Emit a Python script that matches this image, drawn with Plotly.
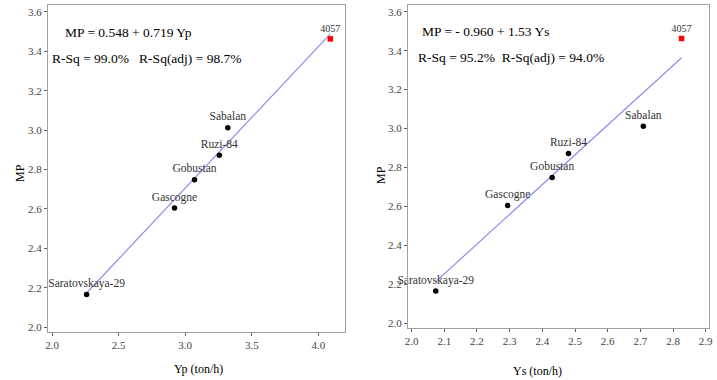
import plotly.graph_objects as go

cultivars = ["Saratovskaya-29", "Gascogne", "Gobustan", "Ruzi-84", "Sabalan", "4057"]
mp = [2.165, 2.605, 2.748, 2.872, 3.012, 3.463]
yp = [2.26, 2.92, 3.07, 3.256, 3.32, 4.09]
ys = [2.074, 2.294, 2.43, 2.48, 2.709, 2.826]

fit_yp = (0.548, 0.719)
fit_ys = (-0.960, 1.53)

eq_yp = "MP = 0.548 + 0.719 Yp"
rsq_yp = "R-Sq = 99.0%   R-Sq(adj) = 98.7%"
eq_ys = "MP = - 0.960 + 1.53 Ys"
rsq_ys = "R-Sq = 95.2%  R-Sq(adj) = 94.0%"

y_ticks = [2.0, 2.2, 2.4, 2.6, 2.8, 3.0, 3.2, 3.4, 3.6]
xp_ticks = [2.0, 2.5, 3.0, 3.5, 4.0]
xs_ticks = [2.0, 2.1, 2.2, 2.3, 2.4, 2.5, 2.6, 2.7, 2.8, 2.9]

FONT = "Liberation Serif, Times New Roman, serif"
fig = go.Figure()


def add_panel(xvals, fit, xa, ya):
    n = len(cultivars) - 1
    xmin, xmax = min(xvals), max(xvals)
    fig.add_trace(go.Scatter(x=[xmin, xmax], y=[fit[0] + fit[1] * xmin, fit[0] + fit[1] * xmax],
                             mode="lines", line=dict(color="#8c8cf0", width=1.2),
                             xaxis=xa, yaxis=ya, showlegend=False, hoverinfo="skip",
                             cliponaxis=False))
    fig.add_trace(go.Scatter(x=xvals[:n], y=mp[:n], mode="markers+text", text=cultivars[:n],
                             textposition="top center", cliponaxis=False,
                             textfont=dict(family=FONT, size=11.5, color="#333333"),
                             marker=dict(color="black", size=5.5),
                             xaxis=xa, yaxis=ya, showlegend=False))
    fig.add_trace(go.Scatter(x=xvals[n:], y=mp[n:], mode="markers+text", text=cultivars[n:],
                             textposition="top center", cliponaxis=False,
                             textfont=dict(family=FONT, size=10, color="#333333"),
                             marker=dict(color="red", size=5.5, symbol="square"),
                             xaxis=xa, yaxis=ya, showlegend=False))


add_panel(yp, fit_yp, "x", "y")
add_panel(ys, fit_ys, "x2", "y2")

axis_common = dict(showline=True, mirror=True, linecolor="#a0a0a0", linewidth=1,
                   ticks="outside", ticklen=3, tickcolor="#606060", showgrid=False, zeroline=False,
                   automargin=False,
                   tickfont=dict(family=FONT, size=11, color="#444444"))

fig.update_layout(
    width=717, height=380,
    margin=dict(l=0, r=0, t=0, b=0),
    paper_bgcolor="white", plot_bgcolor="white",
    xaxis=dict(domain=[48 / 717, 345 / 717], range=[1.97, 4.2], tickvals=xp_ticks,
               ticktext=[f"{v:.1f}" for v in xp_ticks], anchor="y", **axis_common),
    yaxis=dict(domain=[48 / 380, 375 / 380], range=[1.975, 3.635], tickvals=y_ticks,
               ticktext=[f"{v:.1f}" for v in y_ticks], anchor="x", **axis_common),
    xaxis2=dict(domain=[408 / 717, 709 / 717], range=[1.989, 2.91], tickvals=xs_ticks,
                ticktext=[f"{v:.1f}" for v in xs_ticks], anchor="y2", **axis_common),
    yaxis2=dict(domain=[52 / 380, 375 / 380], range=[1.975, 3.635], tickvals=y_ticks,
                ticktext=[f"{v:.1f}" for v in y_ticks], anchor="x2", **axis_common),
)

def ann(text, x, y, size, xanchor="center", **kw):
    fig.add_annotation(text=text, x=x / 717, y=1 - y / 380, xref="paper", yref="paper",
                       xanchor=xanchor, yanchor="middle",
                       showarrow=False, font=dict(family=FONT, size=size, color="black"), **kw)

ann(eq_yp, 128, 32, 13.5)
ann(rsq_yp, 50, 58, 13.5, xanchor="left")
ann(eq_ys, 486, 31, 13.5)
ann(rsq_ys, 416, 57, 13.5, xanchor="left")
ann("MP", 20, 173, 12, textangle=-90)
ann("MP", 381, 175, 12, textangle=-90)
ann("Yp (ton/h)", 198, 369, 12)
ann("Ys (ton/h)", 537, 371, 12)

fig.write_html("out.html", config={"displayModeBar": False},
               post_script="document.body.style.margin='0';document.body.style.padding='0';")
